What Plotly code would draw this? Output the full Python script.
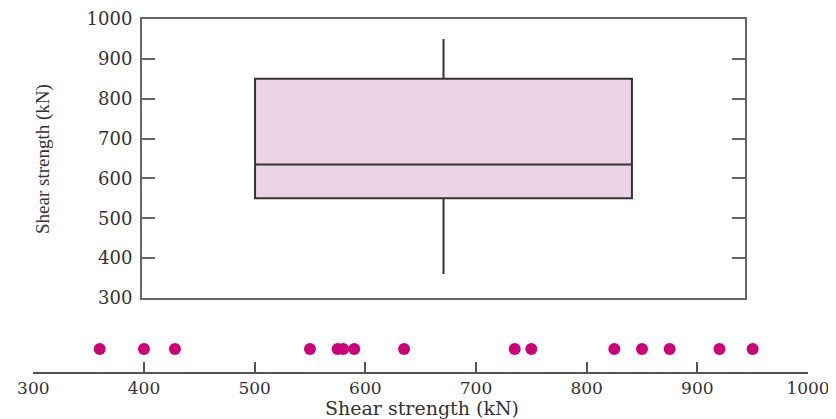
import plotly.graph_objects as go

shear_strength = [360, 400, 428, 550, 575, 580, 590, 635, 735, 750, 825, 850, 875, 920, 950]
y_ticks = [300, 400, 500, 600, 700, 800, 900, 1000]
x_ticks = [300, 400, 500, 600, 700, 800, 900, 1000]
axis_title = "Shear strength (kN)"

# the page places the figure 8px in from the top-left corner of the window
OFF = 8
W, H = 836 - OFF, 419 - OFF

def px_x(p):
    return (p - OFF) / W

def px_y(p):
    return 1 - (p - OFF) / H

tick_font = dict(family="DejaVu Serif", size=18, color="#333333")
xtick_font = dict(family="DejaVu Serif", size=17, color="#333333")
frame = "#666666"

fig = go.Figure()

fig.add_trace(go.Box(
    y=shear_strength, x0=0, width=1.0,
    quartilemethod="exclusive", boxpoints=False, whiskerwidth=0,
    fillcolor="#edd3e6", line=dict(color="#333333", width=2),
    xaxis="x", yaxis="y", showlegend=False, hoverinfo="y",
))

fig.add_trace(go.Scatter(
    x=shear_strength, y=[0.5] * len(shear_strength), mode="markers",
    marker=dict(color="#cc0077", size=12, line=dict(width=0)),
    xaxis="x2", yaxis="y2", showlegend=False,
))

fig.update_layout(
    width=W, height=H,
    margin=dict(l=0, r=0, t=0, b=0, autoexpand=False),
    paper_bgcolor="white", plot_bgcolor="white",
    xaxis=dict(domain=[px_x(142), px_x(745)], range=[-0.8, 0.8],
               showline=True, mirror=True, linecolor=frame, linewidth=2,
               showticklabels=False, ticks="", showgrid=False, zeroline=False,
               fixedrange=True, automargin=False),
    yaxis=dict(domain=[px_y(298), px_y(19)], range=[300, 1000],
               tickvals=y_ticks, ticktext=[str(v) for v in y_ticks],
               showline=True, mirror="ticks", linecolor=frame, linewidth=2,
               ticks="inside", ticklen=13, tickwidth=2, tickcolor=frame,
               tickfont=tick_font, showgrid=False, zeroline=False,
               ticklabelstandoff=4, automargin=False),
    xaxis2=dict(domain=[px_x(33.3), px_x(808)], range=[300, 1000],
                anchor="y2",
                tickvals=x_ticks, ticktext=[str(v) for v in x_ticks],
                showline=True, linecolor="#555555", linewidth=2,
                ticks="inside", ticklen=10, tickwidth=2, tickcolor="#555555",
                tickfont=xtick_font, showgrid=False, zeroline=False,
                automargin=False),
    yaxis2=dict(domain=[px_y(372), px_y(326)], range=[0, 1], anchor="x2",
                visible=False, fixedrange=True, automargin=False),
    annotations=[
        dict(text=axis_title, x=px_x(43), y=px_y(159), xref="paper", yref="paper",
             xanchor="center", yanchor="middle",
             textangle=-90, showarrow=False,
             font=dict(family="Liberation Serif", size=19, color="#333333")),
        dict(text=axis_title, x=px_x(422), y=px_y(408), xref="paper", yref="paper",
             xanchor="center", yanchor="middle",
             showarrow=False,
             font=dict(family="DejaVu Serif", size=19, color="#333333")),
    ],
)

fig.write_html("out.html")
